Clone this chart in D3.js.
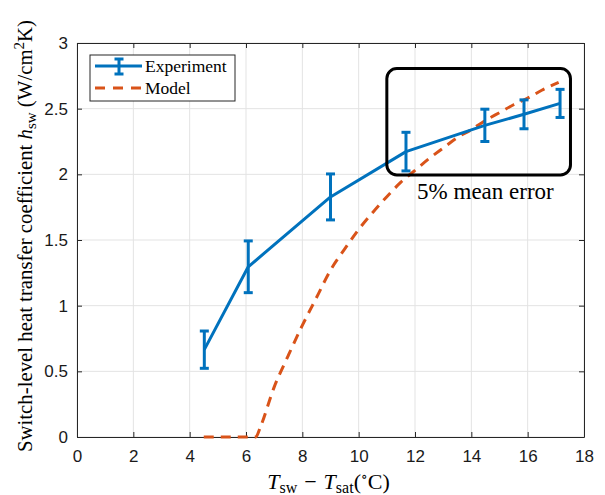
<!DOCTYPE html>
<html>
<head>
<meta charset="utf-8">
<script src="https://cdn.jsdelivr.net/npm/d3@7"></script>
<style>
  html, body { margin: 0; padding: 0; background: #fff; }
  svg { display: block; }
</style>
</head>
<body>
<script>
// Wall superheat (°C) and measured switch-level heat transfer coefficient (W/cm²K)
const superheat = [4.52, 6.08, 9.0, 11.68, 14.48, 15.87, 17.15];
const hExperiment = [0.665, 1.296, 1.828, 2.173, 2.373, 2.457, 2.54];
const hError = [0.142, 0.197, 0.175, 0.147, 0.123, 0.11, 0.107];

// Model prediction
const modelSuperheat = [4.5, 5, 5.5, 6, 6.35, 6.5, 7, 7.5, 8, 8.5, 9, 9.5, 10, 10.5, 11, 11.5, 12, 12.5, 13, 13.5, 14, 14.5, 15, 15.5, 16, 16.5, 17.1];
const hModel = [0, 0, 0, 0, 0, 0.07, 0.38, 0.62, 0.85, 1.06, 1.27, 1.43, 1.58, 1.71, 1.83, 1.94, 2.03, 2.12, 2.20, 2.28, 2.34, 2.41, 2.47, 2.53, 2.58, 2.64, 2.70];

const xTicks = [0, 2, 4, 6, 8, 10, 12, 14, 16, 18];
const yTicks = [0, 0.5, 1, 1.5, 2, 2.5, 3];
const yTickLabels = ["0", "0.5", "1", "1.5", "2", "2.5", "3"];

// Highlighted region and its note
const boxX = [11.0, 17.52];
const boxY = [1.995, 2.805];
const boxNote = "5% mean error";

const W = 605, H = 495;
const margin = { left: 77, top: 43, right: 21, bottom: 58 };
const blue = "#0072BD", orange = "#D95319", axisColor = "#262626";
const serif = "'Liberation Serif', 'DejaVu Serif', serif";
const sans = "'Liberation Sans', Arial, sans-serif";

const svg = d3.select("body").append("svg").attr("width", W).attr("height", H);

const x = d3.scaleLinear().domain([0, 18]).range([margin.left, W - margin.right]);
const y = d3.scaleLinear().domain([0, 3]).range([H - margin.bottom, margin.top]);

// grid
const grid = svg.append("g");
grid.selectAll("line.gx").data(xTicks).join("line")
  .attr("x1", d => x(d)).attr("x2", d => x(d))
  .attr("y1", y(0)).attr("y2", y(3))
  .attr("stroke", "#e3e3e3").attr("stroke-width", 1);
grid.selectAll("line.gy").data(yTicks).join("line")
  .attr("y1", d => y(d)).attr("y2", d => y(d))
  .attr("x1", x(0)).attr("x2", x(18))
  .attr("stroke", "#e3e3e3").attr("stroke-width", 1);

// axes (inward ticks on all four sides)
const tickLen = 5;
const styleAxis = (g) => {
  g.select(".domain").attr("stroke", axisColor).attr("stroke-width", 1);
  g.selectAll(".tick line").attr("stroke", axisColor).attr("stroke-width", 1);
  g.selectAll(".tick text").attr("fill", "#1a1a1a").attr("font-family", sans).attr("font-size", 17);
};
svg.append("g").attr("transform", `translate(0,${y(0)})`)
  .call(d3.axisBottom(x).tickValues(xTicks).tickSizeInner(-tickLen).tickSizeOuter(0).tickPadding(13).tickFormat(d3.format("d")))
  .call(styleAxis);
svg.append("g").attr("transform", `translate(0,${y(3)})`)
  .call(d3.axisTop(x).tickValues(xTicks).tickSizeInner(-tickLen).tickSizeOuter(0).tickFormat(""))
  .call(styleAxis);
svg.append("g").attr("transform", `translate(${x(0)},0)`)
  .call(d3.axisLeft(y).tickValues(yTicks).tickSizeInner(-tickLen).tickSizeOuter(0).tickPadding(9)
    .tickFormat((d, i) => yTickLabels[i]))
  .call(styleAxis);
svg.append("g").attr("transform", `translate(${x(18)},0)`)
  .call(d3.axisRight(y).tickValues(yTicks).tickSizeInner(-tickLen).tickSizeOuter(0).tickFormat(""))
  .call(styleAxis);

// model curve
const modelPts = modelSuperheat.map((d, i) => [d, hModel[i]]);
svg.append("path")
  .attr("d", d3.line().x(d => x(d[0])).y(d => y(d[1])).curve(d3.curveMonotoneX)(modelPts))
  .attr("fill", "none").attr("stroke", orange).attr("stroke-width", 3)
  .attr("stroke-dasharray", "10,7");

// experiment line
const expPts = superheat.map((d, i) => ({ t: d, h: hExperiment[i], e: hError[i] }));
svg.append("path")
  .attr("d", d3.line().x(d => x(d.t)).y(d => y(d.h))(expPts))
  .attr("fill", "none").attr("stroke", blue).attr("stroke-width", 3).attr("stroke-linejoin", "round");

// error bars
const capHalf = 4.5;
const eb = svg.append("g").attr("stroke", blue).attr("stroke-width", 3);
eb.selectAll("line.v").data(expPts).join("line")
  .attr("x1", d => x(d.t)).attr("x2", d => x(d.t))
  .attr("y1", d => y(d.h - d.e)).attr("y2", d => y(d.h + d.e));
eb.selectAll("line.top").data(expPts).join("line")
  .attr("x1", d => x(d.t) - capHalf).attr("x2", d => x(d.t) + capHalf)
  .attr("y1", d => y(d.h + d.e)).attr("y2", d => y(d.h + d.e));
eb.selectAll("line.bot").data(expPts).join("line")
  .attr("x1", d => x(d.t) - capHalf).attr("x2", d => x(d.t) + capHalf)
  .attr("y1", d => y(d.h - d.e)).attr("y2", d => y(d.h - d.e));

// highlighted region
svg.append("rect")
  .attr("x", x(boxX[0])).attr("y", y(boxY[1]))
  .attr("width", x(boxX[1]) - x(boxX[0])).attr("height", y(boxY[0]) - y(boxY[1]))
  .attr("rx", 10).attr("ry", 10)
  .attr("fill", "none").attr("stroke", "#000").attr("stroke-width", 3);
svg.append("text")
  .attr("x", x(14.5)).attr("y", y(1.81))
  .attr("text-anchor", "middle")
  .attr("font-family", serif).attr("font-size", 23).attr("fill", "#000")
  .text(boxNote);

// legend
const lg = svg.append("g").attr("transform", `translate(${x(0) + 13},${y(3) + 12})`);
lg.append("rect").attr("width", 145).attr("height", 46)
  .attr("fill", "#fff").attr("stroke", axisColor).attr("stroke-width", 1);
lg.append("line").attr("x1", 5).attr("x2", 52).attr("y1", 11).attr("y2", 11)
  .attr("stroke", blue).attr("stroke-width", 3);
lg.append("line").attr("x1", 29).attr("x2", 29).attr("y1", 4).attr("y2", 19)
  .attr("stroke", blue).attr("stroke-width", 3);
lg.append("line").attr("x1", 24.5).attr("x2", 33.5).attr("y1", 4).attr("y2", 4)
  .attr("stroke", blue).attr("stroke-width", 3);
lg.append("line").attr("x1", 24.5).attr("x2", 33.5).attr("y1", 19).attr("y2", 19)
  .attr("stroke", blue).attr("stroke-width", 3);
lg.append("line").attr("x1", 5).attr("x2", 52).attr("y1", 33).attr("y2", 33)
  .attr("stroke", orange).attr("stroke-width", 3).attr("stroke-dasharray", "10,8");
lg.append("text").attr("x", 55).attr("y", 17).attr("font-family", serif).attr("font-size", 17.5).text("Experiment");
lg.append("text").attr("x", 55).attr("y", 39).attr("font-family", serif).attr("font-size", 17.5).text("Model");

// x-axis label: T_sw − T_sat (°C)
const xl = svg.append("text")
  .attr("x", (x(0) + x(18)) / 2 - 2).attr("y", 489)
  .attr("text-anchor", "middle")
  .attr("font-family", serif).attr("font-size", 22).attr("fill", "#000");
xl.append("tspan").attr("font-style", "italic").text("T");
xl.append("tspan").attr("font-size", 16).attr("dy", 4).text("sw");
xl.append("tspan").attr("dy", -4).attr("dx", 7).text("\u2212");
xl.append("tspan").attr("dx", 7).attr("font-style", "italic").text("T");
xl.append("tspan").attr("font-size", 16).attr("dy", 4).text("sat");
xl.append("tspan").attr("dy", -4).text("(");
xl.append("tspan").attr("font-size", 14).attr("dy", -8).text("\u2218");
xl.append("tspan").attr("dy", 8).text("C)");

// y-axis label
const yl = svg.append("text")
  .attr("transform", `translate(32,236) rotate(-90)`)
  .attr("text-anchor", "middle")
  .attr("font-family", serif).attr("font-size", 20.8).attr("fill", "#000");
yl.append("tspan").text("Switch-level heat transfer coefficient ");
yl.append("tspan").attr("font-style", "italic").text("h");
yl.append("tspan").attr("font-size", 15).attr("dy", 4).text("sw");
yl.append("tspan").attr("dy", -4).text(" (W/cm");
yl.append("tspan").attr("font-size", 15).attr("dy", -8).text("2");
yl.append("tspan").attr("dy", 8).text("K)");
</script>
</body>
</html>
